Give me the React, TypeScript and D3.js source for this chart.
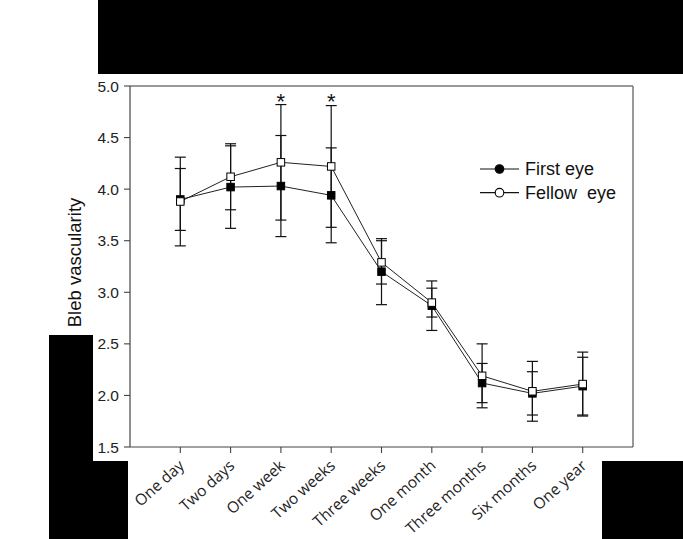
import React from "react";
import * as d3 from "d3";

const categories = [
  "One day",
  "Two days",
  "One week",
  "Two weeks",
  "Three weeks",
  "One month",
  "Three months",
  "Six months",
  "One year",
];
const firstMean = [3.9, 4.02, 4.03, 3.94, 3.2, 2.87, 2.12, 2.02, 2.09];
const firstSD = [0.3, 0.4, 0.49, 0.46, 0.32, 0.24, 0.19, 0.21, 0.28];
const fellowMean = [3.88, 4.12, 4.26, 4.22, 3.29, 2.9, 2.19, 2.04, 2.11];
const fellowSD = [0.43, 0.32, 0.56, 0.59, 0.21, 0.14, 0.31, 0.29, 0.31];
const significance = ["", "", "*", "*", "", "", "", "", ""];
const yTicks = [1.5, 2.0, 2.5, 3.0, 3.5, 4.0, 4.5, 5.0];
const seriesNames = ["First eye", "Fellow  eye"];

const W = 683;
const H = 539;
const left = 130;
const right = 633;
const top = 86;
const bottom = 447;

export default function App() {
  const x = d3.scalePoint<string>().domain(categories).range([left, right]).padding(1);
  const y = d3.scaleLinear().domain([1.5, 5]).range([bottom, top]);
  const fmt = d3.format(".1f");

  const series = [
    { name: seriesNames[0], mean: firstMean, sd: firstSD, fill: "#000" },
    { name: seriesNames[1], mean: fellowMean, sd: fellowSD, fill: "#fff" },
  ];

  const line = d3
    .line<number>()
    .x((_, i) => x(categories[i]) as number)
    .y((d) => y(d));

  const sq = 7.5;
  const cap = 5.5;
  const font = "Arial, 'Liberation Sans', sans-serif";

  return (
    <svg
      width={W}
      height={H}
      style={{ position: "absolute", left: 0, top: 0, background: "#fff" }}
    >
      <rect x={0} y={0} width={W} height={H} fill="#fff" />
      {/* plot frame */}
      <line x1={left} x2={right} y1={top} y2={top} stroke="#777" strokeWidth={1.5} />
      <line x1={right} x2={right} y1={top} y2={bottom} stroke="#777" strokeWidth={1.5} />
      <line x1={left} x2={left} y1={top} y2={bottom} stroke="#444" strokeWidth={1.2} />
      <line x1={left} x2={right} y1={bottom} y2={bottom} stroke="#444" strokeWidth={1.2} />

      {/* y axis */}
      {yTicks.map((t) => (
        <g key={t}>
          <line x1={left - 6} x2={left} y1={y(t)} y2={y(t)} stroke="#444" strokeWidth={1.1} />
          <text
            x={left - 11}
            y={y(t)}
            dy="0.36em"
            textAnchor="end"
            fontFamily={font}
            fontSize={15.5}
            fill="#222"
          >
            {fmt(t)}
          </text>
        </g>
      ))}
      <text
        transform={`translate(81, ${(top + bottom) / 2 - 4}) rotate(-90)`}
        textAnchor="middle"
        fontFamily={font}
        fontSize={18.5}
        fill="#111"
      >
        Bleb vascularity
      </text>

      {/* x axis */}
      {categories.map((c) => {
        const cx = x(c) as number;
        return (
          <g key={c}>
            <line x1={cx} x2={cx} y1={bottom} y2={bottom + 6} stroke="#444" strokeWidth={1.1} />
            <text
              transform={`translate(${cx + 5}, ${bottom + 20}) rotate(-42)`}
              textAnchor="end"
              fontFamily="'Open Sans', sans-serif"
              fontSize={15.5}
              fill="#222"
            >
              {c}
            </text>
          </g>
        );
      })}

      {/* lines */}
      {series.map((s) => (
        <path key={s.name} d={line(s.mean) as string} fill="none" stroke="#222" strokeWidth={1} />
      ))}

      {/* error bars */}
      {series.map((s) =>
        s.mean.map((m, i) => {
          const cx = x(categories[i]) as number;
          const hi = y(m + s.sd[i]);
          const lo = y(m - s.sd[i]);
          return (
            <g key={s.name + i} stroke="#111" strokeWidth={1.2}>
              <line x1={cx} x2={cx} y1={hi} y2={lo} />
              <line x1={cx - cap} x2={cx + cap} y1={hi} y2={hi} />
              <line x1={cx - cap} x2={cx + cap} y1={lo} y2={lo} />
            </g>
          );
        })
      )}

      {/* markers */}
      {series.map((s) =>
        s.mean.map((m, i) => {
          const cx = x(categories[i]) as number;
          return (
            <rect
              key={"m" + s.name + i}
              x={cx - sq / 2}
              y={y(m) - sq / 2}
              width={sq}
              height={sq}
              fill={s.fill}
              stroke="#000"
              strokeWidth={1}
            />
          );
        })
      )}

      {/* significance */}
      {significance.map((t, i) =>
        t ? (
          <text
            key={"s" + i}
            x={x(categories[i]) as number}
            y={109}
            textAnchor="middle"
            fontFamily={font}
            fontSize={22}
            fill="#111"
          >
            {t}
          </text>
        ) : null
      )}

      {/* legend */}
      {series.map((s, i) => {
        const ly = 169 + i * 23.7;
        return (
          <g key={"l" + s.name}>
            <line x1={480} x2={519} y1={ly} y2={ly} stroke="#111" strokeWidth={1.2} />
            <circle cx={499.5} cy={ly} r={4.3} fill={s.fill} stroke="#000" strokeWidth={1.1} />
            <text
              x={525}
              y={ly}
              dy="0.36em"
              fontFamily={font}
              fontSize={18}
              fill="#111"
              style={{ whiteSpace: "pre" }}
            >
              {s.name}
            </text>
          </g>
        );
      })}

      {/* redaction boxes */}
      <rect x={98} y={0} width={W - 98} height={74} fill="#000" />
      <rect x={49} y={335} width={44} height={H - 335} fill="#000" />
      <rect x={49} y={461} width={79} height={H - 461} fill="#000" />
      <rect x={602} y={461} width={W - 602} height={H - 461} fill="#000" />
    </svg>
  );
}
